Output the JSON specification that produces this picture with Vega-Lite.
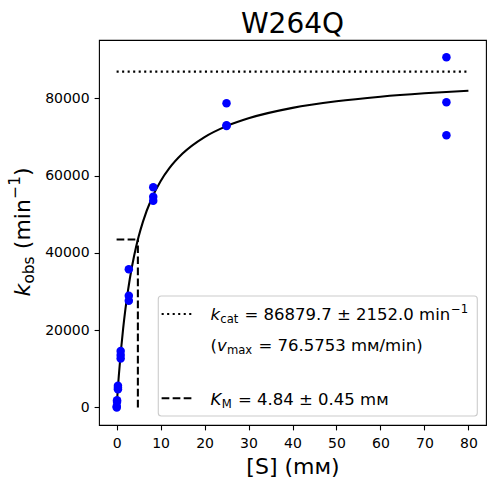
{
  "$schema": "https://vega.github.io/schema/vega-lite/v6.json",
  "width": 387,
  "height": 385,
  "autosize": {"type": "none"},
  "padding": {"left": 99, "top": 40, "right": 9, "bottom": 59},
  "background": "white",
  "title": {"text": "W264Q", "font": "DejaVu Sans", "fontSize": 28, "fontWeight": "normal", "color": "black", "anchor": "middle", "baseline": "alphabetic", "offset": 8, "dy": 29},
  "datasets": {
    "points": [
      {"S": 0.034, "kobs": 0}, {"S": 0.034, "kobs": 300},
      {"S": 0.103, "kobs": 1900}, {"S": 0.103, "kobs": 1500},
      {"S": 0.309, "kobs": 5600}, {"S": 0.309, "kobs": 4700}, {"S": 0.309, "kobs": 5100},
      {"S": 0.926, "kobs": 14600}, {"S": 0.926, "kobs": 13600}, {"S": 0.926, "kobs": 12700},
      {"S": 2.778, "kobs": 35750}, {"S": 2.778, "kobs": 28900}, {"S": 2.778, "kobs": 27600},
      {"S": 8.333, "kobs": 56950}, {"S": 8.333, "kobs": 54500}, {"S": 8.333, "kobs": 53500},
      {"S": 25, "kobs": 78700}, {"S": 25, "kobs": 73000}, {"S": 25, "kobs": 72800},
      {"S": 75, "kobs": 90580}, {"S": 75, "kobs": 78940}, {"S": 75, "kobs": 70400}
    ],
    "fit": [
      {"S": 0, "kobs": 0}, {"S": 0.1, "kobs": 1759}, {"S": 0.25, "kobs": 4267}, {"S": 0.5, "kobs": 8135},
      {"S": 1, "kobs": 14877}, {"S": 1.5, "kobs": 20555}, {"S": 2, "kobs": 25403}, {"S": 3, "kobs": 33245},
      {"S": 4, "kobs": 39312}, {"S": 5, "kobs": 44146}, {"S": 6, "kobs": 48088}, {"S": 8, "kobs": 54131},
      {"S": 10, "kobs": 58544}, {"S": 12, "kobs": 61909}, {"S": 15, "kobs": 65685}, {"S": 20, "kobs": 69952},
      {"S": 25, "kobs": 72787}, {"S": 30, "kobs": 74810}, {"S": 40, "kobs": 77502}, {"S": 50, "kobs": 79212},
      {"S": 60, "kobs": 80395}, {"S": 70, "kobs": 81261}, {"S": 80, "kobs": 81923}
    ],
    "kcat": [{"x": 0, "x2": 80, "y": 86879.7}],
    "km": [
      {"x": 0, "x2": 4.84, "y": 43440, "y2": 43440},
      {"x": 4.84, "x2": 4.84, "y": 0, "y2": 43440}
    ]
  },
  "layer": [
    {
      "data": {"name": "fit"},
      "mark": {"type": "line", "color": "black", "strokeWidth": 2.08, "interpolate": "monotone"},
      "encoding": {
        "x": {"field": "S", "type": "quantitative", "scale": {"domain": [-4, 84], "nice": false, "zero": false},
              "axis": {"values": [0, 10, 20, 30, 40, 50, 60, 70, 80], "title": "[S] (mᴍ)", "labelPadding": 7, "titlePadding": 6}},
        "y": {"field": "kobs", "type": "quantitative", "scale": {"domain": [-4527, 95057], "nice": false, "zero": false},
              "axis": {"values": [0, 20000, 40000, 60000, 80000], "format": "d", "title": null}}
      }
    },
    {
      "data": {"name": "kcat"},
      "mark": {"type": "rule", "color": "black", "strokeWidth": 2.08, "strokeDash": [2.08, 3.44]},
      "encoding": {
        "x": {"field": "x", "type": "quantitative"}, "x2": {"field": "x2"},
        "y": {"field": "y", "type": "quantitative"}
      }
    },
    {
      "data": {"name": "km"},
      "mark": {"type": "rule", "color": "black", "strokeWidth": 2.08, "strokeDash": [7.7, 3.33]},
      "encoding": {
        "x": {"field": "x", "type": "quantitative"}, "x2": {"field": "x2"},
        "y": {"field": "y", "type": "quantitative"}, "y2": {"field": "y2"}
      }
    },
    {
      "data": {"name": "points"},
      "mark": {"type": "point", "filled": true, "shape": "circle", "size": 72, "color": "#0000ff", "opacity": 1},
      "encoding": {
        "x": {"field": "S", "type": "quantitative"},
        "y": {"field": "kobs", "type": "quantitative"}
      }
    },
    {
      "data": {"values": [{}]},
      "mark": {"type": "rect", "fill": "white", "fillOpacity": 0.8, "stroke": "#cccccc", "strokeWidth": 1.1, "cornerRadius": 3},
      "encoding": {
        "x": {"datum": 9.48, "type": "quantitative"}, "x2": {"datum": 82.02},
        "y": {"datum": 28839, "type": "quantitative"}, "y2": {"datum": -2198}
      }
    },
    {
      "data": {"values": [{}]},
      "mark": {"type": "rule", "color": "black", "strokeWidth": 2.08, "strokeDash": [2.08, 3.44]},
      "encoding": {
        "x": {"datum": 10.24, "type": "quantitative"}, "x2": {"datum": 17.74},
        "y": {"datum": 24183, "type": "quantitative"}
      }
    },
    {
      "data": {"values": [{}]},
      "mark": {"type": "rule", "color": "black", "strokeWidth": 2.08, "strokeDash": [7.7, 3.33]},
      "encoding": {
        "x": {"datum": 10.24, "type": "quantitative"}, "x2": {"datum": 17.74},
        "y": {"datum": 2380, "type": "quantitative"}
      }
    },
    {
      "data": {"values": [{"t": "k"}]},
      "mark": {"type": "text", "font": "DejaVu Sans", "fontSize": 16.5, "fontStyle": "italic", "align": "left", "baseline": "alphabetic", "color": "black"},
      "encoding": {"x": {"datum": 21.35, "type": "quantitative"}, "y": {"datum": 22631, "type": "quantitative"}, "text": {"field": "t"}}
    },
    {
      "data": {"values": [{"t": "cat"}]},
      "mark": {"type": "text", "font": "DejaVu Sans", "fontSize": 11.6, "align": "left", "baseline": "alphabetic", "dx": 9.8, "dy": 3.3, "color": "black"},
      "encoding": {"x": {"datum": 21.35, "type": "quantitative"}, "y": {"datum": 22631, "type": "quantitative"}, "text": {"field": "t"}}
    },
    {
      "data": {"values": [{"t": "= 86879.7 ± 2152.0 min"}]},
      "mark": {"type": "text", "font": "DejaVu Sans", "fontSize": 16.5, "align": "left", "baseline": "alphabetic", "dx": 34, "color": "black"},
      "encoding": {"x": {"datum": 21.35, "type": "quantitative"}, "y": {"datum": 22631, "type": "quantitative"}, "text": {"field": "t"}}
    },
    {
      "data": {"values": [{"t": "−1"}]},
      "mark": {"type": "text", "font": "DejaVu Sans", "fontSize": 11.6, "align": "left", "baseline": "alphabetic", "dx": 240.5, "dy": -7.5, "color": "black"},
      "encoding": {"x": {"datum": 21.35, "type": "quantitative"}, "y": {"datum": 22631, "type": "quantitative"}, "text": {"field": "t"}}
    },
    {
      "data": {"values": [{"t": "("}]},
      "mark": {"type": "text", "font": "DejaVu Sans", "fontSize": 16.5, "align": "left", "baseline": "alphabetic", "color": "black"},
      "encoding": {"x": {"datum": 21.35, "type": "quantitative"}, "y": {"datum": 14743, "type": "quantitative"}, "text": {"field": "t"}}
    },
    {
      "data": {"values": [{"t": "v"}]},
      "mark": {"type": "text", "font": "DejaVu Sans", "fontSize": 16.5, "fontStyle": "italic", "align": "left", "baseline": "alphabetic", "dx": 6.4, "color": "black"},
      "encoding": {"x": {"datum": 21.35, "type": "quantitative"}, "y": {"datum": 14743, "type": "quantitative"}, "text": {"field": "t"}}
    },
    {
      "data": {"values": [{"t": "max"}]},
      "mark": {"type": "text", "font": "DejaVu Sans", "fontSize": 11.6, "align": "left", "baseline": "alphabetic", "dx": 16.4, "dy": 3.3, "color": "black"},
      "encoding": {"x": {"datum": 21.35, "type": "quantitative"}, "y": {"datum": 14743, "type": "quantitative"}, "text": {"field": "t"}}
    },
    {
      "data": {"values": [{"t": "= 76.5753 mᴍ/min)"}]},
      "mark": {"type": "text", "font": "DejaVu Sans", "fontSize": 16.5, "align": "left", "baseline": "alphabetic", "dx": 48, "color": "black"},
      "encoding": {"x": {"datum": 21.35, "type": "quantitative"}, "y": {"datum": 14743, "type": "quantitative"}, "text": {"field": "t"}}
    },
    {
      "data": {"values": [{"t": "K"}]},
      "mark": {"type": "text", "font": "DejaVu Sans", "fontSize": 16.5, "fontStyle": "italic", "align": "left", "baseline": "alphabetic", "color": "black"},
      "encoding": {"x": {"datum": 21.35, "type": "quantitative"}, "y": {"datum": 647, "type": "quantitative"}, "text": {"field": "t"}}
    },
    {
      "data": {"values": [{"t": "M"}]},
      "mark": {"type": "text", "font": "DejaVu Sans", "fontSize": 11.6, "align": "left", "baseline": "alphabetic", "dx": 11.3, "dy": 3.3, "color": "black"},
      "encoding": {"x": {"datum": 21.35, "type": "quantitative"}, "y": {"datum": 647, "type": "quantitative"}, "text": {"field": "t"}}
    },
    {
      "data": {"values": [{"t": "= 4.84 ± 0.45 mᴍ"}]},
      "mark": {"type": "text", "font": "DejaVu Sans", "fontSize": 16.5, "align": "left", "baseline": "alphabetic", "dx": 27.5, "color": "black"},
      "encoding": {"x": {"datum": 21.35, "type": "quantitative"}, "y": {"datum": 647, "type": "quantitative"}, "text": {"field": "t"}}
    },
    {
      "data": {"values": [{"t": "k"}]},
      "mark": {"type": "text", "font": "DejaVu Sans", "fontSize": 22, "fontStyle": "italic", "align": "left", "baseline": "alphabetic", "angle": 270, "color": "black"},
      "encoding": {"x": {"datum": -19.7, "type": "quantitative"}, "y": {"datum": 28710, "type": "quantitative"}, "text": {"field": "t"}}
    },
    {
      "data": {"values": [{"t": "obs"}]},
      "mark": {"type": "text", "font": "DejaVu Sans", "fontSize": 15.4, "align": "left", "baseline": "alphabetic", "angle": 270, "dx": 12.9, "dy": 4.5, "color": "black"},
      "encoding": {"x": {"datum": -19.7, "type": "quantitative"}, "y": {"datum": 28710, "type": "quantitative"}, "text": {"field": "t"}}
    },
    {
      "data": {"values": [{"t": "(min"}]},
      "mark": {"type": "text", "font": "DejaVu Sans", "fontSize": 22, "align": "left", "baseline": "alphabetic", "angle": 270, "dx": 47.3, "color": "black"},
      "encoding": {"x": {"datum": -19.7, "type": "quantitative"}, "y": {"datum": 28710, "type": "quantitative"}, "text": {"field": "t"}}
    },
    {
      "data": {"values": [{"t": "−1"}]},
      "mark": {"type": "text", "font": "DejaVu Sans", "fontSize": 15.4, "align": "left", "baseline": "alphabetic", "angle": 270, "dx": 97.8, "dy": -9.5, "color": "black"},
      "encoding": {"x": {"datum": -19.7, "type": "quantitative"}, "y": {"datum": 28710, "type": "quantitative"}, "text": {"field": "t"}}
    },
    {
      "data": {"values": [{"t": ")"}]},
      "mark": {"type": "text", "font": "DejaVu Sans", "fontSize": 22, "align": "left", "baseline": "alphabetic", "angle": 270, "dx": 120.6, "color": "black"},
      "encoding": {"x": {"datum": -19.7, "type": "quantitative"}, "y": {"datum": 28710, "type": "quantitative"}, "text": {"field": "t"}}
    }
  ],
  "config": {
    "view": {"stroke": "black", "strokeWidth": 1.1},
    "axis": {
      "domain": false, "grid": false, "ticks": true, "tickColor": "black", "tickSize": 4.9, "tickWidth": 1.1,
      "labelFont": "DejaVu Sans", "labelFontSize": 14, "labelColor": "black", "labelPadding": 4.9,
      "labelFlush": false, "labelOverlap": false,
      "titleFont": "DejaVu Sans", "titleFontSize": 22, "titleFontWeight": "normal", "titleColor": "black", "titlePadding": 8
    }
  }
}
